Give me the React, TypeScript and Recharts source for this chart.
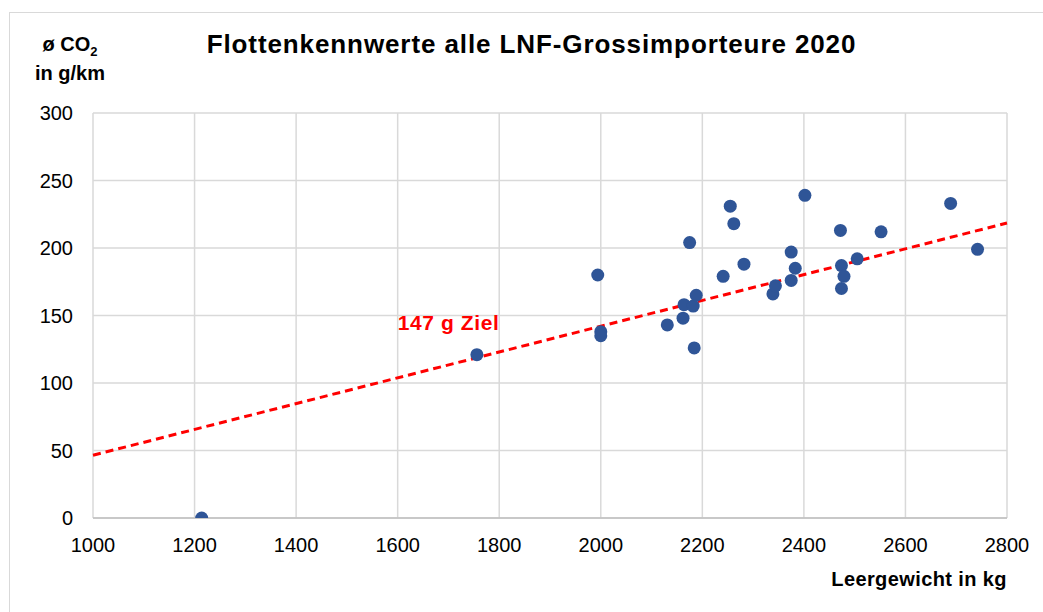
import React from 'react';
import {
  ScatterChart,
  Scatter,
  XAxis,
  YAxis,
  CartesianGrid,
  ReferenceLine,
  ReferenceDot,
} from 'recharts';

const weights = [
  1214, 1756, 1994, 2000, 2000, 2131, 2162, 2164, 2182, 2188,
  2184, 2175, 2241, 2255, 2262, 2282, 2339, 2344, 2375, 2383,
  2375, 2402, 2472, 2552, 2474, 2479, 2474, 2505, 2689, 2742,
];
const co2Values = [
  0, 121, 180, 138, 135, 143, 148, 158, 157, 165,
  126, 204, 179, 231, 218, 188, 166, 172, 197, 185,
  176, 239, 213, 212, 187, 179, 170, 192, 233, 199,
];
const targetLineX = [1000, 2800];
const targetLineY = [46.5, 218.5];
const xTicks = [1000, 1200, 1400, 1600, 1800, 2000, 2200, 2400, 2600, 2800];
const yTicks = [0, 50, 100, 150, 200, 250, 300];
const targetLabel = '147 g Ziel';
const targetLabelPos = { x: 1600, y: 145 };
const titleText = 'Flottenkennwerte alle LNF-Grossimporteure 2020';
const yUnitLine2 = 'in g/km';
const xAxisTitle = 'Leergewicht in kg';

const points = weights.map((w, i) => ({ x: w, y: co2Values[i] }));

const FONT = '"Liberation Sans", Arial, sans-serif';

const Dot = (props: any) => {
  const { cx, cy } = props;
  if (cx == null || cy == null) return null;
  return <circle cx={cx} cy={cy} r={6.5} fill="#2F5597" />;
};

const TargetLabel = (props: any) => {
  const vb = props.viewBox || {};
  return (
    <text
      x={vb.x}
      y={vb.y}
      fill="#FF0000"
      fontFamily={FONT}
      fontWeight="bold"
      fontSize={21}
      letterSpacing={0.6}
      dominantBaseline="central"
      textAnchor="start"
    >
      {targetLabel}
    </text>
  );
};

export default function App() {
  return (
    <div
      style={{
        position: 'absolute',
        left: 0,
        top: 0,
        width: 1043,
        height: 612,
        background: '#ffffff',
        overflow: 'hidden',
        fontFamily: FONT,
      }}
    >
      <div
        style={{
          position: 'absolute',
          left: 9,
          top: 12,
          width: 1100,
          height: 700,
          border: '1.5px solid #d9d9d9',
          boxSizing: 'border-box',
        }}
      />
      <ScatterChart
        width={1043}
        height={612}
        margin={{ top: 113, right: 36, bottom: 64, left: 33 }}
        style={{ position: 'absolute', left: 0, top: 0 }}
      >
        <CartesianGrid stroke="#d9d9d9" strokeWidth={1.5} />
        <XAxis
          type="number"
          dataKey="x"
          domain={[1000, 2800]}
          ticks={xTicks}
          interval={0}
          height={30}
          axisLine={{ stroke: '#bfbfbf', strokeWidth: 1.5 }}
          tickLine={false}
          tickMargin={14}
          tick={{ fill: '#000000', fontSize: 20, fontFamily: FONT }}
          allowDataOverflow
        />
        <YAxis
          type="number"
          dataKey="y"
          domain={[0, 300]}
          ticks={yTicks}
          interval={0}
          width={60}
          axisLine={false}
          tickLine={false}
          tickMargin={14}
          tick={{ fill: '#000000', fontSize: 20, fontFamily: FONT }}
          allowDataOverflow
        />
        <ReferenceLine
          segment={[
            { x: targetLineX[0], y: targetLineY[0] },
            { x: targetLineX[1], y: targetLineY[1] },
          ]}
          stroke="#FF0000"
          strokeWidth={3}
          strokeDasharray="8 5"
          ifOverflow="visible"
        />
        <Scatter
          data={points}
          shape={Dot}
          isAnimationActive={false}
        />
        <ReferenceDot
          x={targetLabelPos.x}
          y={targetLabelPos.y}
          r={0}
          fill="none"
          stroke="none"
          label={<TargetLabel />}
        />
      </ScatterChart>
      <div
        style={{
          position: 'absolute',
          left: 0,
          width: 1043,
          top: 28,
          textAlign: 'center',
          fontWeight: 'bold',
          fontSize: 26,
          letterSpacing: 0.9,
          lineHeight: '32px',
          color: '#000',
          paddingLeft: 20,
          boxSizing: 'border-box',
        }}
      >
        {titleText}
      </div>
      <div
        style={{
          position: 'absolute',
          left: 20,
          width: 100,
          top: 31,
          textAlign: 'center',
          fontWeight: 'bold',
          fontSize: 20,
          lineHeight: '27px',
          color: '#000',
        }}
      >
        <div>
          ø CO<sub style={{ fontSize: 13, verticalAlign: 'baseline', position: 'relative', top: 5 }}>2</sub>
        </div>
        <div>{yUnitLine2}</div>
      </div>
      <div
        style={{
          position: 'absolute',
          right: 36,
          top: 566,
          fontWeight: 'bold',
          fontSize: 20,
          letterSpacing: 0.4,
          lineHeight: '26px',
          color: '#000',
          whiteSpace: 'nowrap',
        }}
      >
        {xAxisTitle}
      </div>
    </div>
  );
}
